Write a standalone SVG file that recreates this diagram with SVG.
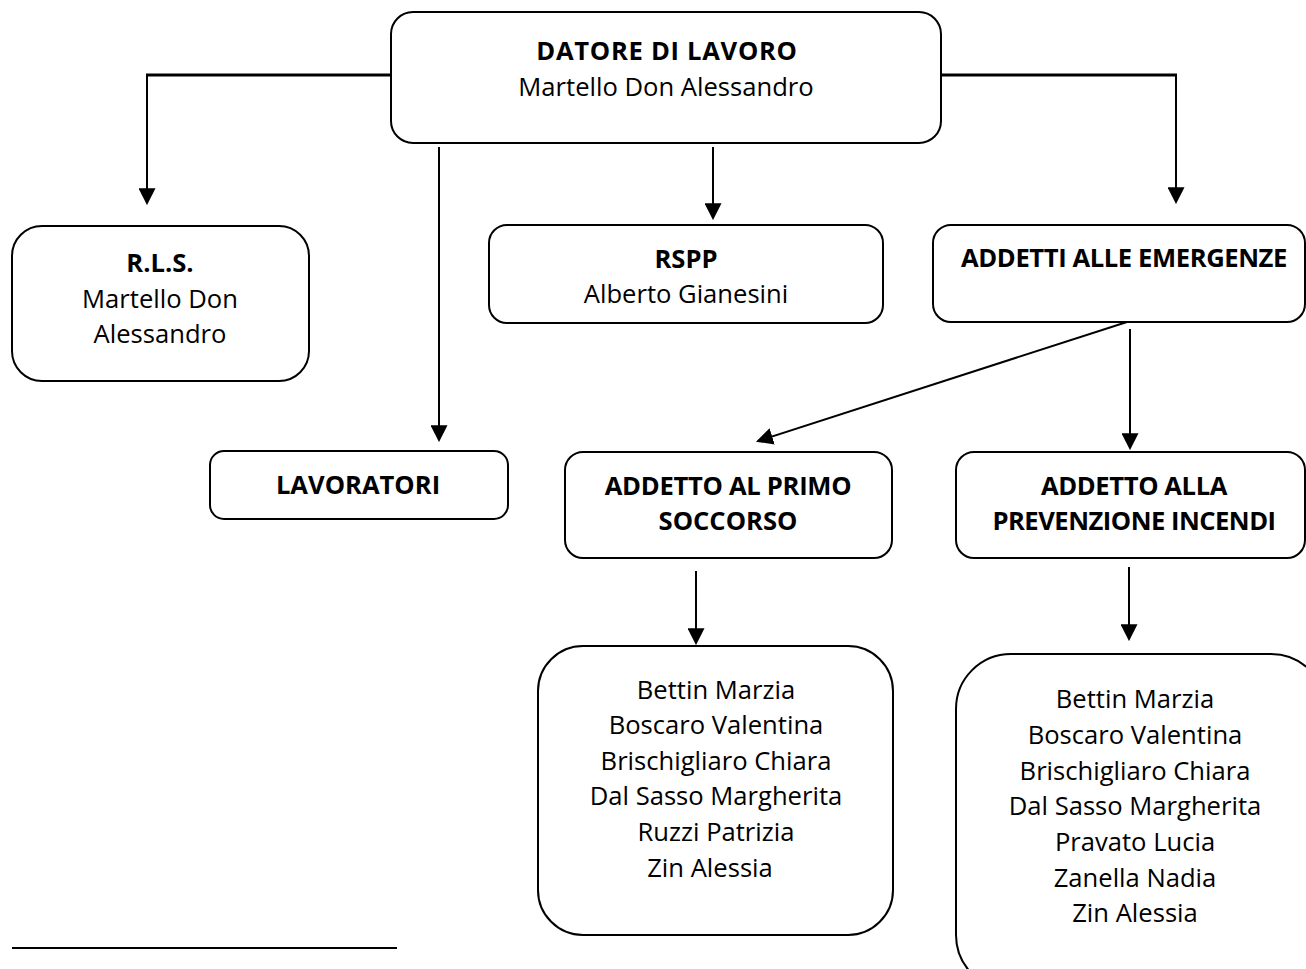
<svg xmlns="http://www.w3.org/2000/svg" width="1306" height="969" viewBox="0 0 1306 969">
<style>
  .box { fill: #ffffff; stroke: #000000; stroke-width: 2; }
  .t { font-family: "Open Sans", "Liberation Sans", sans-serif; font-size: 25.6px; fill: #000000; text-anchor: middle; }
  .b { font-weight: bold; }
  .hl { stroke: #000000; stroke-width: 3; fill: none; }
  .ar { stroke: #000000; stroke-width: 2; fill: none; marker-end: url(#arrow); }
</style>
<defs>
  <marker id="arrow" markerUnits="userSpaceOnUse" markerWidth="17" markerHeight="17" viewBox="0 0 16 16" refX="14" refY="8" orient="auto">
    <path d="M0,0 L16,8 L0,16 z" fill="#000000"/>
  </marker>
</defs>
<rect width="1306" height="969" fill="#ffffff"/>

<g id="connectors">
  <line class="hl" x1="391" y1="75" x2="146" y2="75"/>
  <line class="ar" x1="147" y1="74" x2="147" y2="203"/>
  <line class="hl" x1="941" y1="75" x2="1177" y2="75"/>
  <line class="ar" x1="1176" y1="74" x2="1176" y2="202"/>
  <line class="ar" x1="439" y1="147" x2="439" y2="440"/>
  <line class="ar" x1="713" y1="147" x2="713" y2="218"/>
  <line class="ar" x1="1127" y1="322" x2="758" y2="441"/>
  <line class="ar" x1="1130" y1="329" x2="1130" y2="448"/>
  <line class="ar" x1="696" y1="571" x2="696" y2="643"/>
  <line class="ar" x1="1129" y1="567" x2="1129" y2="639"/>
</g>

<g id="datore">
  <rect class="box" x="391" y="12" width="550" height="131" rx="22"/>
  <text class="t b" x="667" y="60" letter-spacing="0.7">DATORE DI LAVORO</text>
  <text class="t" x="666" y="96">Martello Don Alessandro</text>
</g>

<g id="rls">
  <rect class="box" x="12" y="226" width="297" height="155" rx="30"/>
  <text class="t b" x="160" y="272">R.L.S.</text>
  <text class="t" x="160" y="308">Martello Don</text>
  <text class="t" x="160" y="343">Alessandro</text>
</g>

<g id="rspp">
  <rect class="box" x="489" y="225" width="394" height="98" rx="18"/>
  <text class="t b" x="686" y="268">RSPP</text>
  <text class="t" x="686" y="303">Alberto Gianesini</text>
</g>

<g id="emergenze">
  <rect class="box" x="933" y="225" width="372" height="97" rx="18"/>
  <text class="t b" x="1124" y="267" letter-spacing="-0.4">ADDETTI ALLE EMERGENZE</text>
</g>

<g id="lavoratori">
  <rect class="box" x="210" y="451" width="298" height="68" rx="14"/>
  <text class="t b" x="358" y="494">LAVORATORI</text>
</g>

<g id="primo-soccorso">
  <rect class="box" x="565" y="452" width="327" height="106" rx="18"/>
  <text class="t b" x="728" y="495" letter-spacing="-0.3">ADDETTO AL PRIMO</text>
  <text class="t b" x="728" y="530">SOCCORSO</text>
</g>

<g id="prevenzione-incendi">
  <rect class="box" x="956" y="452" width="349" height="106" rx="18"/>
  <text class="t b" x="1134" y="495" letter-spacing="-0.4">ADDETTO ALLA</text>
  <text class="t b" x="1134" y="530" letter-spacing="-0.5">PREVENZIONE INCENDI</text>
</g>

<g id="lista-primo-soccorso">
  <rect class="box" x="538" y="646" width="355" height="289" rx="45"/>
  <text class="t" x="716" y="699">Bettin Marzia</text>
  <text class="t" x="716" y="734">Boscaro Valentina</text>
  <text class="t" x="716" y="770">Brischigliaro Chiara</text>
  <text class="t" x="716" y="805">Dal Sasso Margherita</text>
  <text class="t" x="716" y="841">Ruzzi Patrizia</text>
  <text class="t" x="710" y="877">Zin Alessia</text>
</g>

<g id="lista-prevenzione-incendi">
  <rect class="box" x="956" y="654" width="370" height="336" rx="55"/>
  <text class="t" x="1135" y="708">Bettin Marzia</text>
  <text class="t" x="1135" y="744">Boscaro Valentina</text>
  <text class="t" x="1135" y="780">Brischigliaro Chiara</text>
  <text class="t" x="1135" y="815">Dal Sasso Margherita</text>
  <text class="t" x="1135" y="851">Pravato Lucia</text>
  <text class="t" x="1135" y="887">Zanella Nadia</text>
  <text class="t" x="1135" y="922">Zin Alessia</text>
</g>

<line x1="12" y1="948" x2="397" y2="948" stroke="#000000" stroke-width="2"/>
</svg>
